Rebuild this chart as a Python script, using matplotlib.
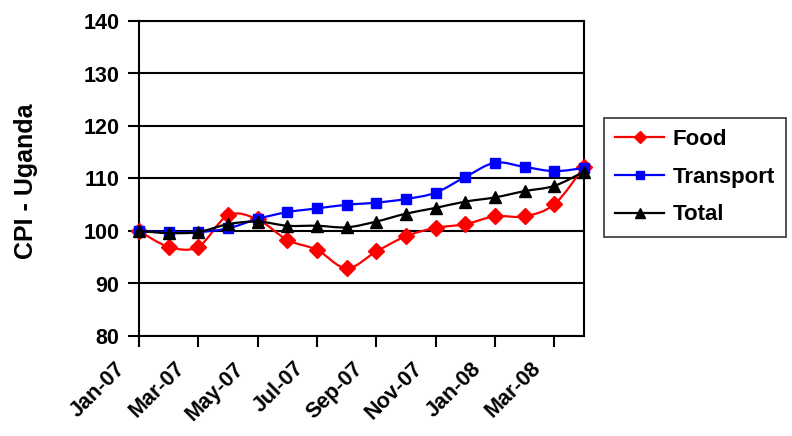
import matplotlib
matplotlib.use("Agg")
from matplotlib import pyplot as plt
from matplotlib.path import Path
from matplotlib.patches import PathPatch
from matplotlib.lines import Line2D
from matplotlib.transforms import ScaledTranslation

plt.rcParams['font.family'] = ['Liberation Sans', 'DejaVu Sans']
plt.rcParams['font.weight'] = 'bold'

# Monthly CPI values, Jan-07 .. Apr-08
months = ['Jan-07', 'Feb-07', 'Mar-07', 'Apr-07', 'May-07', 'Jun-07', 'Jul-07', 'Aug-07',
          'Sep-07', 'Oct-07', 'Nov-07', 'Dec-07', 'Jan-08', 'Feb-08', 'Mar-08', 'Apr-08']
food = [100.0, 97.0, 97.0, 103.0, 102.2, 98.3, 96.4, 92.9,
        96.1, 99.0, 100.6, 101.3, 102.8, 102.8, 105.1, 112.2]
transport = [100.0, 99.8, 99.8, 100.5, 102.3, 103.6, 104.3, 105.0,
             105.4, 106.1, 107.3, 110.3, 113.0, 112.2, 111.4, 112.0]
total = [100.0, 99.6, 99.8, 101.3, 101.8, 101.0, 101.0, 100.7,
         101.8, 103.3, 104.4, 105.6, 106.4, 107.6, 108.6, 111.3]


# Excel-like smoothed line: cubic bezier through every point
def smooth_path(xs, ys):
    pts = list(zip(xs, ys))
    verts = [pts[0]]
    codes = [Path.MOVETO]
    n = len(pts)
    for i in range(n - 1):
        p0 = pts[i - 1] if i > 0 else pts[i]
        p1 = pts[i]
        p2 = pts[i + 1]
        p3 = pts[i + 2] if i + 2 < n else pts[i + 1]
        c1 = (p1[0] + (p2[0] - p0[0]) / 6, p1[1] + (p2[1] - p0[1]) / 6)
        c2 = (p2[0] - (p3[0] - p1[0]) / 6, p2[1] - (p3[1] - p1[1]) / 6)
        verts += [c1, c2, p2]
        codes += [Path.CURVE4] * 3
    return Path(verts, codes)


fig = plt.figure(figsize=(7.92, 4.36), dpi=100)
ax = fig.add_axes([139 / 792, 1 - 336 / 436, (584 - 139) / 792, (336 - 21) / 436])

x = list(range(len(months)))
series = [('Food', food, 'red', 'D', 8),
          ('Transport', transport, 'blue', 's', 7.5),
          ('Total', total, 'black', '^', 9)]
handles = []
for i, (name, vals, col, mk, ms) in enumerate(series):
    ax.add_patch(PathPatch(smooth_path(x, vals), fill=False, edgecolor=col,
                           lw=1.6, zorder=3 + i * 2, clip_on=False))
    ax.plot(x, vals, ls='none', marker=mk, ms=ms, color=col, zorder=4 + i * 2, clip_on=False)
    handles.append(Line2D([], [], color=col, lw=1.6, marker=mk, ms=ms * 0.8, label=name))

ax.set_xlim(0, 15)
ax.set_ylim(80, 140)
ax.set_yticks(range(80, 141, 10))
ax.set_xticks(x[::2])
ax.set_xticklabels([])
# rotated month labels, placed below-left of each tick like Excel
offset = ScaledTranslation(-0.24, -0.22, fig.dpi_scale_trans)
for xi in x[::2]:
    ax.text(xi, 0, months[xi], transform=ax.get_xaxis_transform() + offset,
            rotation=45, ha='right', va='top', rotation_mode='anchor',
            fontsize=15.5, fontweight='bold', clip_on=False)
ax.tick_params(axis='both', labelsize=15.5, direction='out', length=8, width=1.5, colors='black')
ax.tick_params(axis='y', pad=6)
ax.grid(axis='y', color='black', lw=1.5)
ax.set_axisbelow(True)
for s in ax.spines.values():
    s.set_linewidth(1.5)
    s.set_color('black')
ax.set_ylabel('CPI - Uganda', fontsize=18, fontweight='bold')
ax.yaxis.set_label_coords(-0.226, 0.49)

leg = fig.legend(handles=handles, loc='upper left', bbox_to_anchor=(604 / 792, 1 - 118 / 436),
                 fontsize=16, frameon=True, fancybox=False, handlelength=2.2,
                 borderpad=0.5, labelspacing=0.75, handletextpad=0.4, borderaxespad=0)
leg.get_frame().set_edgecolor('black')
leg.get_frame().set_linewidth(1.2)

plt.savefig('out.png', dpi=100)
